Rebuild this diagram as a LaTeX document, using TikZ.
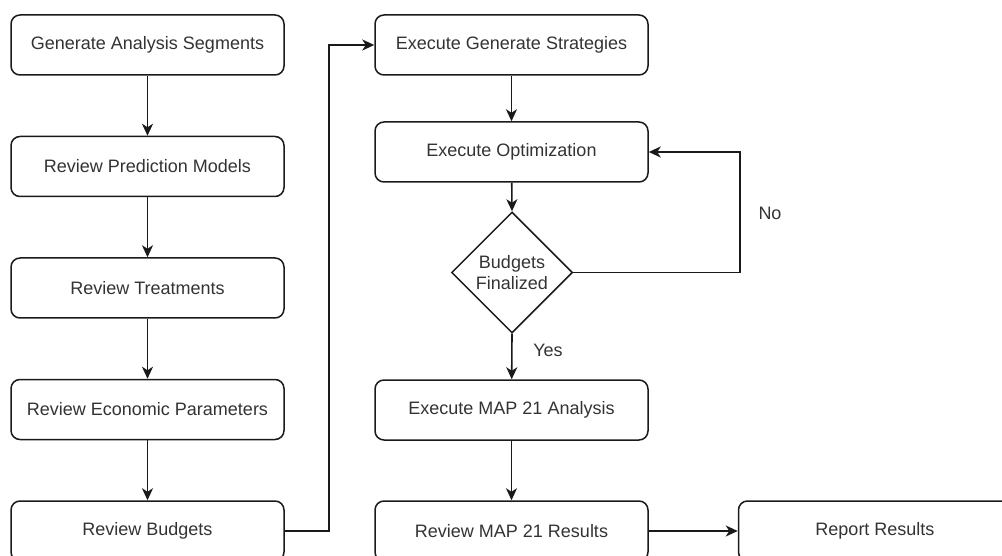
\documentclass[tikz,border=0pt]{standalone}
\usepackage{fontspec}
\setmainfont{Liberation Sans}
\usetikzlibrary{shapes.geometric,arrows.meta}
\definecolor{txt}{HTML}{333333}
\definecolor{ln}{HTML}{1A1A1A}
\tikzset{
  box/.style={draw=ln, line width=1.5pt, rounded corners=9pt, minimum width=273pt, minimum height=60pt,
    inner sep=0pt, text=txt, font=\fontsize{18}{21}\selectfont, fill=white},
  dec/.style={draw=ln, line width=1.5pt, diamond, aspect=1, minimum width=121pt, minimum height=121pt,
    inner sep=0pt, text=txt, align=center, font=\fontsize{18}{21}\selectfont},
  conn/.style={draw=ln, line width=1.6pt, -{Stealth[length=12pt,width=11pt,inset=3.5pt]}},
  lbl/.style={text=txt, font=\fontsize{18}{21}\selectfont, inner sep=0pt}
}
\begin{document}
\begin{tikzpicture}[x=1pt,y=-1pt]
\useasboundingbox (0,0) rectangle (1002,556);
\node[box] (a1) at (147.5,45) {Generate Analysis Segments};
\node[box] (a2) at (147.5,166.5) {Review Prediction Models};
\node[box] (a3) at (147.5,288) {Review Treatments};
\node[box] (a4) at (147.5,409.5) {Review Economic Parameters};
\node[box] (a5) at (147.5,531) {Review Budgets};

\node[box] (b1) at (511.5,45) {Execute Generate Strategies};
\node[box] (b2) at (511.5,152) {Execute Optimization};
\node[dec] (d) at (512,272.5) {Budgets\\Finalized};
\node[box] (b3) at (511.5,410) {Execute MAP 21 Analysis};
\node[box] (b4) at (511.5,531) {Review MAP 21 Results};
\node[box] (c1) at (875,531) {Report Results};

\coordinate (k1) at (329,531);
\coordinate (k2) at (329,45);
\coordinate (n1) at (740,272.5);
\coordinate (n2) at (740,152);

\draw[conn] (a1) -- (a2);
\draw[conn] (a2) -- (a3);
\draw[conn] (a3) -- (a4);
\draw[conn] (a4) -- (a5);
\draw[conn] (a5.east) -- (k1) -- (k2) -- (b1.west);
\draw[conn] (b1) -- (b2);
\draw[conn] (b2) -- (d.north);
\draw[conn] (d.east) -- (n1) -- (n2) -- (b2.east);
\draw[conn] (d.south) -- (b3);
\draw[conn] (b3) -- (b4);
\draw[conn] (b4) -- (c1);

\node[lbl] (no) at (770,213) {No};
\node[lbl] (yes) at (548,350) {Yes};
\end{tikzpicture}
\end{document}
